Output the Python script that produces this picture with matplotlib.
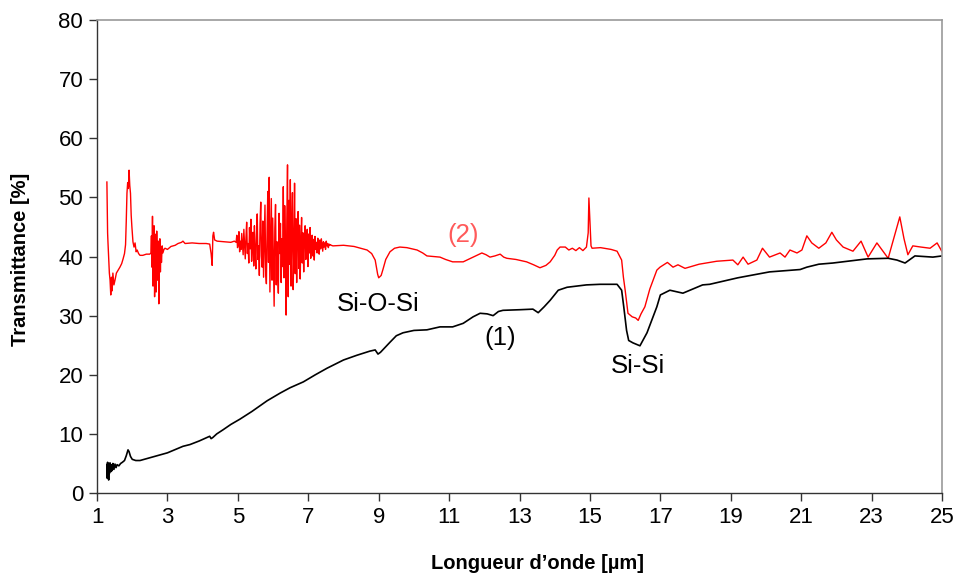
import matplotlib
matplotlib.use("Agg")
import matplotlib.pyplot as plt

plt.rcParams['font.family'] = ['Liberation Sans', 'DejaVu Sans']

# ---- Curve (1): black ----
black_x = [1.28, 1.29, 1.30, 1.31, 1.32, 1.33, 1.34, 1.35, 1.37, 1.39, 1.41, 1.43, 1.45, 1.48,
           1.51, 1.54, 1.57, 1.62, 1.67, 1.72, 1.78, 1.83, 1.88, 1.91, 1.95, 2.0, 2.1, 2.22,
           2.4, 2.7, 3.0, 3.16, 3.44, 3.64, 3.9, 4.2, 4.24, 4.29, 4.4, 4.58, 4.8, 5.06, 5.4,
           5.83, 6.2, 6.48, 6.86, 7.2, 7.53, 8.0, 8.38, 8.75, 8.9, 8.98, 9.05, 9.32, 9.5,
           9.69, 10.0, 10.37, 10.74, 11.0, 11.1, 11.4, 11.68, 11.88, 12.08, 12.25, 12.4,
           12.53, 13.0, 13.38, 13.53, 13.7, 13.87, 14.1, 14.35, 14.9, 15.29, 15.77, 15.9,
           15.96, 16.04, 16.1, 16.22, 16.42, 16.62, 16.9, 17.0, 17.27, 17.64, 18.2, 18.4, 19.2,
           20.1, 20.97, 21.16, 21.5, 21.9, 22.87, 23.47, 23.72, 23.95, 24.23, 24.74, 25.0]
black_y = [4.8, 2.5, 5.2, 3.0, 4.9, 2.2, 5.0, 3.3, 5.1, 3.6, 4.8, 3.8, 5.0, 4.0,
           4.9, 4.3, 4.8, 4.6, 5.0, 5.2, 5.5, 6.3, 7.3, 7.0, 6.2, 5.7, 5.5, 5.5,
           5.8, 6.3, 6.8, 7.2, 7.9, 8.2, 8.8, 9.6, 9.2, 9.4, 10.0, 10.7, 11.6, 12.5, 13.8,
           15.6, 16.9, 17.8, 18.8, 20.0, 21.1, 22.5, 23.3, 24.0, 24.2, 23.5, 23.8, 25.5, 26.6,
           27.1, 27.5, 27.6, 28.1, 28.1, 28.1, 28.7, 29.8, 30.4, 30.3, 30.0, 30.7,
           30.9, 31.0, 31.1, 30.5, 31.5, 32.6, 34.3, 34.8, 35.2, 35.3, 35.3, 34.3,
           31.5, 27.5, 25.8, 25.4, 24.9, 27.1, 31.5, 33.5, 34.3, 33.8, 35.2, 35.3, 36.4,
           37.4, 37.8, 38.2, 38.7, 38.9, 39.6, 39.7, 39.4, 38.9, 40.1, 39.9, 40.1]

# ---- Curve (2): red ----
red_x_a = [1.28, 1.29, 1.30, 1.31, 1.33, 1.35, 1.37, 1.39, 1.41, 1.43, 1.45, 1.48, 1.51,
           1.55, 1.60, 1.65, 1.70, 1.74, 1.78, 1.81, 1.83, 1.85, 1.87, 1.89, 1.91, 1.93,
           1.95, 1.97, 1.99, 2.02, 2.05, 2.08, 2.11, 2.14, 2.18, 2.22, 2.30, 2.40, 2.50]
red_y_a = [52.6, 48.0, 44.0, 42.5, 40.0, 37.2, 36.0, 33.5, 36.5, 34.2, 37.2, 35.2, 36.0,
           37.2, 37.7, 38.2, 38.8, 39.6, 40.5, 42.0, 46.0, 50.7, 52.5, 51.5, 54.6, 52.0,
           50.7, 47.0, 45.0, 42.5, 41.6, 42.3, 40.8, 41.1, 40.5, 40.2, 40.2, 40.4, 40.4]

red_x_b1 = [2.53, 2.545, 2.56, 2.575, 2.59, 2.605, 2.62, 2.635, 2.65, 2.665, 2.68, 2.695,
            2.71, 2.725, 2.74, 2.755, 2.77, 2.785, 2.80, 2.815, 2.83, 2.85, 2.87, 2.90]
red_y_b1 = [40.6, 43.5, 38.2, 46.8, 35.0, 41.0, 45.2, 33.2, 43.8, 37.5, 34.0, 44.3,
            39.0, 36.0, 42.6, 32.0, 40.5, 43.0, 37.4, 41.6, 39.0, 41.8, 40.6, 41.2]

red_x_c = [2.93, 3.0, 3.1, 3.22, 3.3, 3.4, 3.44, 3.5, 3.7, 3.9, 4.1, 4.2, 4.24, 4.27,
           4.29, 4.31, 4.34, 4.41, 4.6, 4.8, 4.9]
red_y_c = [41.4, 41.2, 41.7, 41.9, 42.2, 42.4, 42.6, 42.2, 42.3, 42.2, 42.2, 42.1, 40.5, 38.5,
           43.5, 44.1, 42.8, 42.6, 42.5, 42.4, 42.6]

red_x_b2 = [4.95, 4.97, 4.99, 5.01, 5.03, 5.05, 5.07, 5.09, 5.11, 5.13,
            5.15, 5.17, 5.19, 5.21, 5.23, 5.25, 5.27, 5.29, 5.31, 5.33,
            5.35, 5.37, 5.39, 5.41, 5.43, 5.45, 5.47, 5.49, 5.51, 5.53,
            5.55, 5.57, 5.59, 5.61, 5.63, 5.65, 5.67, 5.69, 5.71, 5.73,
            5.75, 5.77, 5.79, 5.81, 5.83, 5.85, 5.87, 5.89, 5.91, 5.93,
            5.95, 5.97, 5.99, 6.01, 6.03, 6.05, 6.07, 6.09, 6.11, 6.13,
            6.15, 6.17, 6.19, 6.21, 6.23, 6.25, 6.27, 6.29, 6.31, 6.33,
            6.35, 6.37, 6.39, 6.41, 6.43, 6.45, 6.47, 6.49, 6.51, 6.53,
            6.55, 6.57, 6.59, 6.61, 6.63, 6.65, 6.67, 6.69, 6.71, 6.73,
            6.75, 6.77, 6.79, 6.81, 6.83, 6.85, 6.87, 6.89, 6.91, 6.93,
            6.95, 6.97, 6.99, 7.01, 7.03, 7.05, 7.07, 7.09, 7.11, 7.13,
            7.15, 7.17, 7.19, 7.21, 7.23, 7.25, 7.27, 7.29, 7.31, 7.33,
            7.35, 7.37, 7.39, 7.41, 7.43, 7.45, 7.47, 7.49, 7.51, 7.53,
            7.55, 7.57, 7.59, 7.61, 7.63, 7.65]
red_y_b2 = [42.4, 43.6, 41.5, 42.0, 44.2, 40.8, 42.6, 41.2, 43.9, 42.1,
            40.3, 44.6, 42.0, 39.6, 43.2, 45.8, 40.5, 42.2, 38.9, 44.9,
            41.3, 46.3, 39.2, 42.6, 44.1, 38.4, 45.2, 41.0, 37.9, 43.7,
            47.2, 39.5, 41.8, 36.8, 45.6, 49.2, 40.1, 38.2, 46.0, 36.5,
            42.9, 48.7, 37.4, 35.4, 44.3, 51.0, 39.0, 53.4, 34.0, 41.8,
            49.8, 36.0, 46.5, 38.5, 31.6, 44.8, 48.8, 35.2, 42.5, 37.3,
            33.8, 47.3, 40.5, 45.6, 35.6, 43.0, 38.3, 51.8, 36.4, 48.6,
            42.0, 30.1, 46.0, 55.5, 33.2, 49.5, 38.7, 53.0, 35.0, 44.5,
            50.8, 34.4, 40.6, 52.4, 37.1, 46.4, 35.6, 43.6, 47.6, 38.0,
            45.3, 36.2, 42.8, 46.6, 38.9, 44.0, 37.4, 43.2, 45.2, 39.5,
            41.8, 44.6, 38.3, 43.8, 40.6, 44.9, 39.7, 42.5, 43.6, 40.1,
            42.9, 39.4, 43.4, 41.2, 42.4, 40.6, 43.1, 41.6, 40.4, 42.8,
            41.3, 43.0, 41.9, 40.9, 42.5, 41.6, 42.3, 41.2, 42.6, 41.8,
            42.2, 41.5, 42.1, 41.9, 42.0, 41.9]

red_x_d = [7.7, 8.0, 8.3, 8.67, 8.8, 8.9, 8.97, 9.0, 9.07, 9.12, 9.2, 9.32, 9.45, 9.6, 9.8,
           10.09, 10.25, 10.37, 10.74, 10.9, 11.1, 11.4, 11.68, 11.93, 12.05, 12.16, 12.3,
           12.45, 12.55, 12.64, 12.9, 13.2, 13.4, 13.58, 13.75, 13.87, 14.0, 14.07, 14.15,
           14.3, 14.4, 14.5, 14.6, 14.7, 14.8, 14.9, 14.95, 14.97, 15.0, 15.03, 15.06, 15.3,
           15.6, 15.77, 15.9, 15.95, 16.0, 16.08, 16.2, 16.3, 16.37, 16.45, 16.56, 16.7,
           16.9, 16.99, 17.2, 17.36, 17.5, 17.7, 18.1, 18.6, 19.06, 19.2, 19.35, 19.49,
           19.74, 19.9, 20.1, 20.4, 20.54, 20.68, 20.88, 21.02, 21.16, 21.3, 21.5, 21.7,
           21.87, 22.0, 22.19, 22.47, 22.7, 22.9, 23.15, 23.47, 23.65, 23.8, 23.92, 24.03,
           24.17, 24.4, 24.66, 24.86, 25.0]
red_y_d = [41.8, 41.9, 41.7, 41.1, 40.5, 39.4, 37.0, 36.4, 36.8, 37.8, 39.5, 40.8, 41.4, 41.6, 41.5,
           41.1, 40.6, 40.1, 39.9, 39.5, 39.1, 39.1, 39.9, 40.6, 40.3, 39.9, 40.1,
           40.4, 39.9, 39.7, 39.5, 39.1, 38.6, 38.1, 38.5, 39.1, 40.2, 41.1, 41.6,
           41.6, 41.1, 41.4, 41.0, 41.5, 41.0, 41.6, 44.0, 49.9, 46.0, 41.8, 41.4, 41.5,
           41.2, 40.9, 39.4, 36.5, 34.3, 30.4, 29.8, 29.6, 29.2, 30.3, 31.5, 34.5,
           37.7, 38.2, 39.0, 38.2, 38.6, 38.0, 38.7, 39.2, 39.4, 38.6, 39.9, 38.7,
           39.4, 41.4, 39.9, 40.6, 39.9, 41.1, 40.6, 41.1, 43.5, 42.3, 41.4, 42.3,
           44.1, 42.8, 41.6, 40.9, 42.6, 39.9, 42.3, 39.7, 43.5, 46.7, 43.0, 40.3,
           41.8, 41.6, 41.4, 42.3, 40.8]

red_x = red_x_a + red_x_b1 + red_x_c + red_x_b2 + red_x_d
red_y = red_y_a + red_y_b1 + red_y_c + red_y_b2 + red_y_d

x_ticks = [1, 3, 5, 7, 9, 11, 13, 15, 17, 19, 21, 23, 25]
y_ticks = [0, 10, 20, 30, 40, 50, 60, 70, 80]

fig = plt.figure(figsize=(9.56, 5.78), dpi=100)
ax = fig.add_axes([0.1015, 0.147, 0.8839, 0.8184])

ax.plot(red_x, red_y, color='#ff0000', lw=1.0)
ax.plot(black_x, black_y, color='#000000', lw=1.2)

ax.set_xlim(1, 25)
ax.set_ylim(0, 80)
ax.set_xticks(x_ticks)
ax.set_yticks(y_ticks)
ax.tick_params(axis='both', direction='out', length=6, width=1.0, labelsize=16,
               color='#333333', pad=4)
for s in ['left', 'bottom']:
    ax.spines[s].set_color('#333333')
    ax.spines[s].set_linewidth(1.0)
for s in ['top', 'right']:
    ax.spines[s].set_color('#999999')
    ax.spines[s].set_linewidth(1.2)

ax.set_xlabel('Longueur d\u2019onde [\u00b5m]', fontsize=14.5, fontweight='bold')
ax.set_ylabel('Transmittance [%]', fontsize=14.5, fontweight='bold')
ax.xaxis.set_label_coords(0.521, -0.129)
ax.yaxis.set_label_coords(-0.079, 0.495)

ax.text(8.98, 32.0, 'Si-O-Si', fontsize=18.5, ha='center', va='center')
ax.text(11.4, 43.6, '(2)', fontsize=18.5, ha='center', va='center', color='#ff5a5a')
ax.text(12.45, 26.2, '(1)', fontsize=18.5, ha='center', va='center')
ax.text(16.37, 21.5, 'Si-Si', fontsize=18.5, ha='center', va='center')

fig.savefig('out.png', dpi=100)
